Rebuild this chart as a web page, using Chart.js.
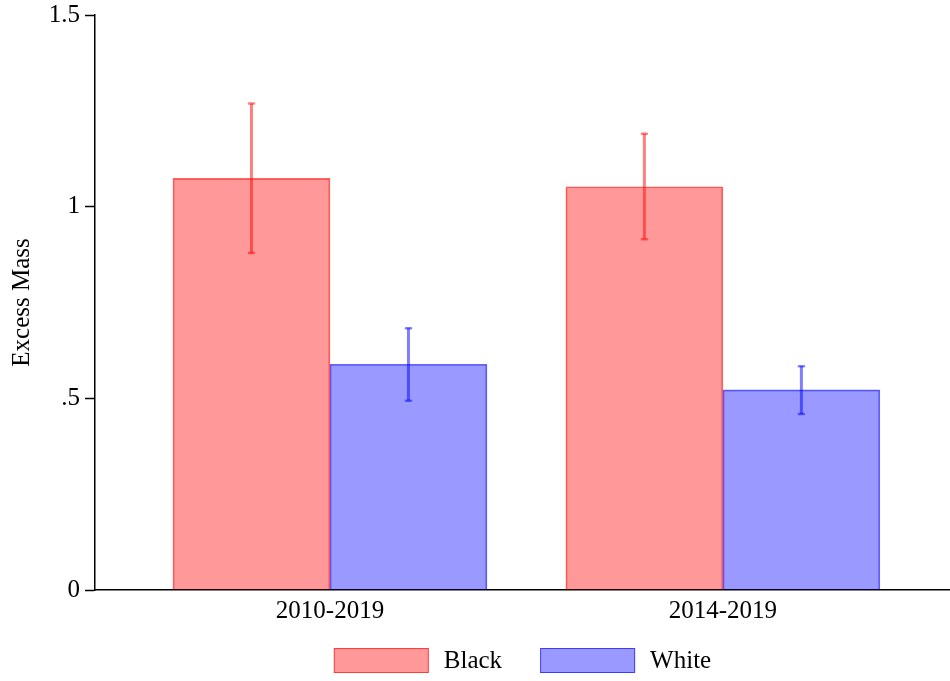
<!DOCTYPE html>
<html>
<head>
<meta charset="utf-8">
<script src="https://cdn.jsdelivr.net/npm/chart.js@4/dist/chart.umd.min.js"></script>
<style>
  html, body { margin: 0; padding: 0; background: #fff; }
  #wrap { width: 950px; height: 681px; }
</style>
</head>
<body>
<div id="wrap"><canvas id="c" width="950" height="681"></canvas></div>
<script>
// Period labels along the x axis
const categories = ['2010-2019', '2014-2019'];
// Excess mass estimates by group
const blackValues = [1.074, 1.052];
const whiteValues = [0.589, 0.522];
// Confidence interval bounds
const blackLow  = [0.879, 0.915];
const blackHigh = [1.269, 1.190];
const whiteLow  = [0.494, 0.459];
const whiteHigh = [0.683, 0.584];
// Y-axis tick labels for 0, .5, 1, 1.5
const yTickValues = [0, 0.5, 1, 1.5];
const yTickLabels = ['0', '.5', '1', '1.5'];

const FONT = "'Liberation Serif', 'Times New Roman', serif";
const RED_FILL = 'rgba(255,0,0,0.40)';
const RED_LINE = 'rgba(255,0,0,0.60)';
const BLUE_FILL = 'rgba(0,0,255,0.40)';
const BLUE_LINE = 'rgba(0,0,255,0.60)';

const toPoints = arr => arr.map((v, i) => ({ x: i, y: v }));

// Whisker lines for each bar, drawn in value space
const errorBars = {
  id: 'errorBars',
  afterDatasetsDraw(chart) {
    const ctx = chart.ctx;
    const ys = chart.scales.y;
    const ranges = [[blackLow, blackHigh, 'rgba(255,0,0,0.5)'], [whiteLow, whiteHigh, 'rgba(0,0,255,0.5)']];
    ranges.forEach(([lo, hi, col], di) => {
      const meta = chart.getDatasetMeta(di);
      meta.data.forEach((bar, i) => {
        const x = bar.x;
        const y1 = ys.getPixelForValue(hi[i]);
        const y2 = ys.getPixelForValue(lo[i]);
        ctx.save();
        ctx.strokeStyle = col;
        ctx.lineWidth = 3;
        ctx.beginPath();
        ctx.moveTo(x, y1);
        ctx.lineTo(x, y2);
        ctx.stroke();
        ctx.lineWidth = 2.5;
        ctx.lineCap = 'round';
        [y1, y2].forEach(y => {
          ctx.beginPath();
          ctx.moveTo(x - 2.5, y);
          ctx.lineTo(x + 2.5, y);
          ctx.stroke();
        });
        ctx.restore();
      });
    });
  }
};

// Legend row beneath the plot, centred on the plot area
const bottomLegend = {
  id: 'bottomLegend',
  afterDraw(chart) {
    const ctx = chart.ctx;
    const area = chart.chartArea;
    ctx.save();
    ctx.font = '25px ' + FONT;
    ctx.textBaseline = 'middle';
    ctx.textAlign = 'left';
    const items = chart.data.datasets.map(ds => ({
      text: ds.label, fill: ds.backgroundColor, stroke: ds.borderColor,
      w: ctx.measureText(ds.label).width
    }));
    const boxW = 95, boxH = 25, gap = 15, spacing = 38;
    let total = 0;
    items.forEach((it, i) => { total += boxW + gap + it.w + (i ? spacing : 0); });
    let x = (area.left + area.right) / 2 - total / 2;
    const top = 648;
    items.forEach(it => {
      ctx.fillStyle = it.fill;
      ctx.fillRect(x, top, boxW, boxH);
      ctx.strokeStyle = it.stroke;
      ctx.lineWidth = 1;
      ctx.strokeRect(x + 0.5, top + 0.5, boxW - 1, boxH - 1);
      ctx.fillStyle = '#000';
      ctx.fillText(it.text, x + boxW + gap, top + boxH / 2 + 1);
      x += boxW + gap + it.w + spacing;
    });
    ctx.restore();
  }
};

new Chart(document.getElementById('c'), {
  type: 'bar',
  data: {
    datasets: [
      { label: 'Black', data: toPoints(blackValues), backgroundColor: RED_FILL, borderColor: RED_LINE, borderWidth: 1, barThickness: 157 },
      { label: 'White', data: toPoints(whiteValues), backgroundColor: BLUE_FILL, borderColor: BLUE_LINE, borderWidth: 1, barThickness: 157 }
    ]
  },
  options: {
    responsive: false,
    animation: false,
    layout: { padding: { top: 15, right: 0, bottom: 45, left: 0 } },
    plugins: { legend: { display: false }, tooltip: { enabled: false } },
    scales: {
      x: {
        type: 'linear',
        offset: false,
        min: -0.598,
        max: 1.578,
        grid: { display: false, drawTicks: false },
        border: { display: true, color: '#000', width: 1.5 },
        afterBuildTicks: s => { s.ticks = categories.map((_, i) => ({ value: i })); },
        ticks: {
          autoSkip: false,
          maxRotation: 0,
          padding: 6,
          color: '#000',
          font: { family: FONT, size: 25 },
          callback: v => categories[v]
        },
        afterFit: s => { s.height = 46; s.paddingLeft = 0; s.paddingRight = 0; }
      },
      y: {
        min: 0,
        max: 1.5,
        grid: { drawOnChartArea: false, drawTicks: true, tickLength: 10, color: '#000', tickWidth: 1.5 },
        border: { display: true, color: '#000', width: 1.5 },
        afterBuildTicks: s => { s.ticks = yTickValues.map(v => ({ value: v })); },
        ticks: {
          padding: 5,
          color: '#000',
          font: { family: FONT, size: 25 },
          callback: v => yTickLabels[yTickValues.indexOf(v)]
        },
        title: {
          display: true,
          text: 'Excess Mass',
          color: '#000',
          font: { family: FONT, size: 25 },
          padding: { top: 7, bottom: 0 }
        },
        afterFit: s => { s.width = 95; s.paddingTop = 0; s.paddingBottom = 0; }
      }
    }
  },
  plugins: [errorBars, bottomLegend]
});
</script>
</body>
</html>
